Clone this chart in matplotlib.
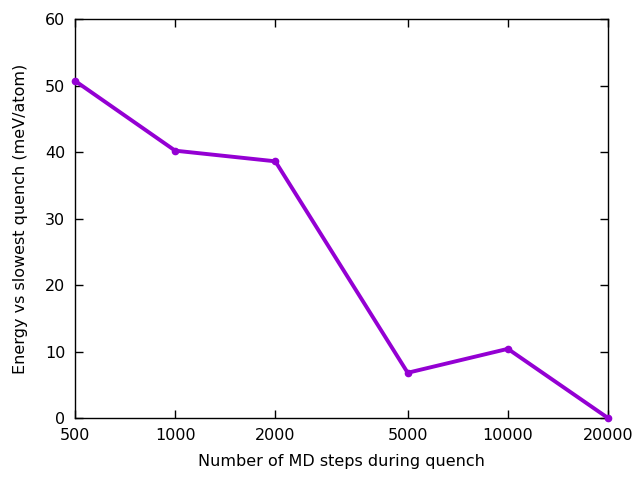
import matplotlib
matplotlib.use("Agg")
import matplotlib.pyplot as plt
from matplotlib.ticker import FixedLocator, FixedFormatter, NullLocator

# quench length vs energy difference to the slowest quench
md_steps = [500, 1000, 2000, 5000, 10000, 20000]
energy_mev = [50.7, 40.2, 38.6, 6.8, 10.4, 0.0]
xtick_vals = [500, 1000, 2000, 5000, 10000, 20000]
xtick_labels = ["500", "1000", "2000", "5000", "10000", "20000"]
ytick_vals = [0, 10, 20, 30, 40, 50, 60]

fig = plt.figure(figsize=(6.4, 4.8), dpi=100)
ax = fig.add_axes([75 / 640, 1 - 418 / 480, (608 - 75) / 640, (418 - 19) / 480])

ax.plot(md_steps, energy_mev, color="#9400d3", linewidth=2.8,
        marker="o", markersize=4.5, clip_on=False, zorder=3)

ax.set_xscale("log")
ax.set_xlim(500, 20000)
ax.set_ylim(0, 60)
ax.xaxis.set_major_locator(FixedLocator(xtick_vals))
ax.xaxis.set_major_formatter(FixedFormatter(xtick_labels))
ax.xaxis.set_minor_locator(NullLocator())
ax.set_yticks(ytick_vals)

ax.tick_params(direction="in", length=6, width=1, top=True, right=True,
               labelsize=11.5, pad=7, colors="black")
for sp in ax.spines.values():
    sp.set_linewidth(1)

ax.set_xlabel("Number of MD steps during quench", fontsize=11.5, labelpad=8)
ax.set_ylabel("Energy vs slowest quench (meV/atom)", fontsize=11.5, labelpad=12)

fig.savefig("out.png", dpi=100)
